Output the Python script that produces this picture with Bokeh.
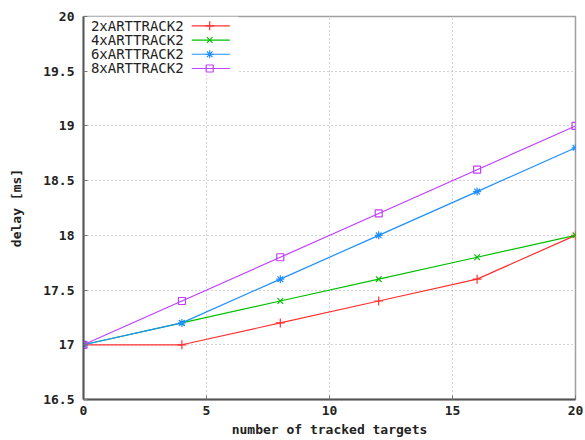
from bokeh.plotting import figure
from bokeh.models import Range1d, FixedTicker, Label
from bokeh.embed import file_html
from bokeh.resources import INLINE

# ---- data ----
targets = [0, 4, 8, 12, 16, 20]
delay_2x = [17.0, 17.0, 17.2, 17.4, 17.6, 18.0]
delay_4x = [17.0, 17.2, 17.4, 17.6, 17.8, 18.0]
delay_6x = [17.0, 17.2, 17.6, 18.0, 18.4, 18.8]
delay_8x = [17.0, 17.4, 17.8, 18.2, 18.6, 19.0]
series_names = ["2xARTTRACK2", "4xARTTRACK2", "6xARTTRACK2", "8xARTTRACK2"]
x_ticks = [0, 5, 10, 15, 20]
y_ticks = [16.5, 17, 17.5, 18, 18.5, 19, 19.5, 20]
y_tick_labels = ["16.5", "17", "17.5", "18", "18.5", "19", "19.5", "20"]

colors = ["#ff3030", "#00c000", "#1e8fff", "#c040ff"]
markers = ["cross", "x", "asterisk", "square"]
sizes = [9, 8, 8, 7]
series = [delay_2x, delay_4x, delay_6x, delay_8x]

FONT = "DejaVu Sans Mono"

p = figure(width=585, height=440, output_backend="svg", toolbar_location=None,
           x_range=Range1d(0, 20), y_range=Range1d(16.5, 20),
           min_border_left=83, min_border_top=16, min_border_right=10,
           min_border_bottom=41)

p.outline_line_color = "#a0a0a0"
p.outline_line_width = 1.5

for ax in (p.xaxis[0], p.yaxis[0]):
    ax.axis_line_color = "#555555"
    ax.axis_line_width = 2
    ax.major_tick_in = 4
    ax.major_tick_out = 0
    ax.major_tick_line_color = "#777777"
    ax.minor_tick_line_color = None
    ax.major_label_text_font = FONT
    ax.major_label_text_font_style = "bold"
    ax.major_label_text_font_size = "13px"
    ax.major_label_text_color = "#222222"
    ax.axis_label_text_font = FONT
    ax.axis_label_text_font_style = "bold"
    ax.axis_label_text_font_size = "13px"
    ax.axis_label_text_color = "#222222"

p.xaxis.ticker = FixedTicker(ticks=x_ticks)
p.yaxis.ticker = FixedTicker(ticks=y_ticks)
p.yaxis.major_label_overrides = {float(t): l for t, l in zip(y_ticks, y_tick_labels)}
p.xaxis.axis_label = "number of tracked targets"
p.yaxis.axis_label = "delay [ms]"
p.xaxis.major_label_standoff = 6
p.xaxis.axis_label_standoff = 4
p.yaxis.major_label_standoff = 9
p.yaxis.axis_label_standoff = 16

p.grid.grid_line_color = "#a8a8a8"
p.grid.grid_line_dash = "1 3"
p.grid.grid_line_width = 1

# legend background box (covers grid like gnuplot key)
p.quad(left=[0], right=[6.3], bottom=[19.47], top=[20], fill_color="white",
       line_color=None)

for ys, c, m, s in zip(series, colors, markers, sizes):
    p.line(targets, ys, line_color=c, line_width=1.2)
    p.scatter(targets, ys, marker=m, size=s, line_color=c, fill_color=None,
              line_width=1.2)

# custom legend: text on left, sample on right (gnuplot style)
leg_y = [19.915, 19.785, 19.655, 19.525]
for name, c, m, s, ly in zip(series_names, colors, markers, sizes, leg_y):
    p.line([4.4, 5.95], [ly, ly], line_color=c, line_width=1.2)
    p.scatter([5.13], [ly], marker=m, size=s, line_color=c, fill_color=None,
              line_width=1.2)
    p.add_layout(Label(x=0.3, y=ly, text=name, text_font=FONT,
                       text_font_size="14px", text_baseline="middle",
                       text_color="#222222"))

open("out.html", "w").write(file_html(p, INLINE))
